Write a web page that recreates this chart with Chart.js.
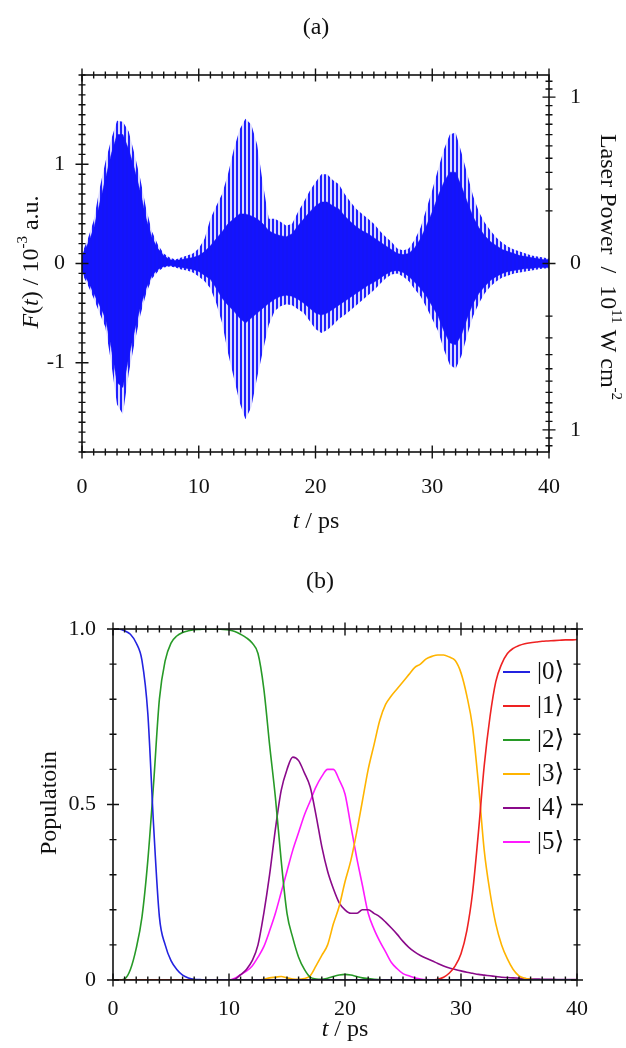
<!DOCTYPE html>
<html>
<head>
<meta charset="utf-8">
<script src="https://cdn.jsdelivr.net/npm/chart.js@4.4.1/dist/chart.umd.min.js"></script>
<style>
  html, body { margin: 0; padding: 0; background: #fff; }
  #wrap { position: relative; width: 626px; height: 1048px; }
  canvas { position: absolute; left: 0; }
  #fa { top: 0; }
  #fb { top: 550px; }
</style>
</head>
<body>
<div id="wrap">
  <canvas id="fa" width="626" height="550"></canvas>
  <canvas id="fb" width="626" height="498"></canvas>
</div>
<script>
// time grid (ps), shared by both panels
const tGrid = [
  0, 0.5, 1, 1.5, 2, 2.5, 3, 3.5, 4, 4.5,
  5, 5.5, 6, 6.5, 7, 7.5, 8, 8.5, 9, 9.5,
  10, 10.5, 11, 11.5, 12, 12.5, 13, 13.5, 14, 14.5,
  15, 15.5, 16, 16.5, 17, 17.5, 18, 18.5, 19, 19.5,
  20, 20.5, 21, 21.5, 22, 22.5, 23, 23.5, 24, 24.5,
  25, 25.5, 26, 26.5, 27, 27.5, 28, 28.5, 29, 29.5,
  30, 30.5, 31, 31.5, 32, 32.5, 33, 33.5, 34, 34.5,
  35, 35.5, 36, 36.5, 37, 37.5, 38, 38.5, 39, 39.5,
  40
];

// panel (a): envelope of the laser field F(t), 10^-3 a.u.
const fieldUpper = [
  0.10, 0.25, 0.43, 0.75, 1.02, 1.25, 1.44, 1.43, 1.33, 1.10,
  0.85, 0.55, 0.32, 0.19, 0.10, 0.06, 0.04, 0.06, 0.08, 0.10,
  0.15, 0.25, 0.45, 0.58, 0.70, 0.90, 1.15, 1.35, 1.46, 1.40,
  1.20, 0.80, 0.45, 0.45, 0.42, 0.38, 0.40, 0.52, 0.62, 0.73,
  0.82, 0.90, 0.90, 0.84, 0.80, 0.70, 0.62, 0.55, 0.50, 0.45,
  0.40, 0.33, 0.27, 0.22, 0.15, 0.13, 0.15, 0.24, 0.36, 0.55,
  0.74, 0.95, 1.15, 1.30, 1.32, 1.12, 0.90, 0.68, 0.52, 0.41,
  0.33, 0.26, 0.21, 0.17, 0.14, 0.12, 0.10, 0.08, 0.07, 0.06,
  0.05
];
const fieldLower = [
  -0.10, -0.22, -0.35, -0.50, -0.64, -1.00, -1.42, -1.52, -1.11, -0.80,
  -0.52, -0.30, -0.15, -0.08, -0.04, -0.03, -0.04, -0.06, -0.07, -0.09,
  -0.13, -0.18, -0.25, -0.40, -0.60, -0.90, -1.15, -1.40, -1.57, -1.45,
  -1.15, -0.88, -0.62, -0.48, -0.43, -0.41, -0.42, -0.46, -0.50, -0.58,
  -0.66, -0.70, -0.67, -0.62, -0.56, -0.52, -0.47, -0.42, -0.37, -0.32,
  -0.27, -0.21, -0.15, -0.11, -0.10, -0.13, -0.18, -0.26, -0.33, -0.44,
  -0.56, -0.68, -0.87, -1.02, -1.06, -0.93, -0.72, -0.53, -0.40, -0.30,
  -0.23, -0.18, -0.14, -0.12, -0.10, -0.09, -0.08, -0.07, -0.06, -0.05,
  -0.05
];
// dense core of the oscillation
const coreUpper = [
  0.08, 0.20, 0.35, 0.60, 0.85, 1.10, 1.30, 1.30, 1.15, 0.95,
  0.72, 0.45, 0.26, 0.15, 0.08, 0.04, 0.03, 0.04, 0.05, 0.06,
  0.08, 0.12, 0.18, 0.25, 0.32, 0.40, 0.45, 0.50, 0.50, 0.48,
  0.45, 0.40, 0.33, 0.30, 0.28, 0.27, 0.30, 0.38, 0.45, 0.52,
  0.58, 0.62, 0.62, 0.58, 0.55, 0.48, 0.42, 0.37, 0.33, 0.30,
  0.26, 0.22, 0.18, 0.14, 0.10, 0.09, 0.10, 0.16, 0.25, 0.38,
  0.52, 0.68, 0.82, 0.92, 0.92, 0.78, 0.62, 0.47, 0.36, 0.28,
  0.22, 0.18, 0.14, 0.12, 0.10, 0.08, 0.07, 0.06, 0.05, 0.04,
  0.04
];
const coreLower = [
  -0.08, -0.18, -0.30, -0.42, -0.55, -0.85, -1.20, -1.25, -0.95, -0.68,
  -0.44, -0.25, -0.12, -0.06, -0.03, -0.02, -0.03, -0.04, -0.05, -0.06,
  -0.08, -0.12, -0.16, -0.25, -0.35, -0.42, -0.48, -0.55, -0.60, -0.55,
  -0.50, -0.45, -0.40, -0.36, -0.33, -0.32, -0.33, -0.36, -0.40, -0.45,
  -0.50, -0.52, -0.50, -0.46, -0.42, -0.38, -0.34, -0.30, -0.26, -0.22,
  -0.19, -0.15, -0.11, -0.08, -0.07, -0.09, -0.13, -0.19, -0.25, -0.33,
  -0.43, -0.53, -0.68, -0.80, -0.82, -0.72, -0.55, -0.40, -0.30, -0.23,
  -0.17, -0.13, -0.10, -0.08, -0.07, -0.06, -0.05, -0.05, -0.04, -0.04,
  -0.04
];

// panel (b): populations of |0> .. |5>
const pop0 = [
  1.0, 1.0, 0.995, 0.985, 0.96, 0.91, 0.76, 0.44, 0.18, 0.1,
  0.055, 0.03, 0.014, 0.006, 0.002, 0.001, 0, 0, 0, 0,
  0, 0, 0, 0, 0, 0, 0, 0, 0, 0,
  0, 0, 0, 0, 0, 0, 0, 0, 0, 0,
  0, 0, 0, 0, 0, 0, 0, 0, 0, 0,
  0, 0, 0, 0, 0, 0, 0, 0, 0, 0,
  0, 0, 0, 0, 0, 0, 0, 0, 0, 0,
  0, 0, 0, 0, 0, 0, 0, 0, 0, 0,
  0
];
const pop1 = [
  0, 0, 0, 0, 0, 0, 0, 0, 0, 0,
  0, 0, 0, 0, 0, 0, 0, 0, 0, 0,
  0, 0, 0, 0, 0, 0, 0, 0, 0, 0,
  0, 0, 0, 0, 0, 0, 0, 0, 0, 0,
  0, 0, 0, 0, 0, 0, 0, 0, 0, 0,
  0, 0, 0, 0, 0, 0, 0.002, 0.008, 0.02, 0.04,
  0.075, 0.14, 0.25, 0.42, 0.61, 0.75, 0.85, 0.9, 0.93, 0.945,
  0.953, 0.958, 0.961, 0.963, 0.965, 0.966, 0.967, 0.968, 0.969, 0.969,
  0.97
];
const pop2 = [
  0, 0, 0.003, 0.03, 0.09, 0.18, 0.34, 0.56, 0.8, 0.91,
  0.96, 0.98, 0.99, 0.995, 0.998, 0.999, 1.0, 1.0, 1.0, 0.999,
  0.997, 0.993, 0.985, 0.975, 0.96, 0.93, 0.83, 0.67, 0.52, 0.34,
  0.19, 0.12, 0.065, 0.03, 0.008, 0.003, 0.002, 0.005, 0.01, 0.014,
  0.016, 0.014, 0.01, 0.006, 0.004, 0.002, 0.001, 0, 0, 0,
  0, 0, 0, 0, 0, 0, 0, 0, 0, 0,
  0, 0, 0, 0, 0, 0, 0, 0, 0, 0,
  0, 0, 0, 0, 0, 0, 0, 0, 0, 0,
  0
];
const pop3 = [
  0, 0, 0, 0, 0, 0, 0, 0, 0, 0,
  0, 0, 0, 0, 0, 0, 0, 0, 0, 0,
  0, 0, 0, 0, 0, 0, 0.002, 0.006, 0.008, 0.01,
  0.006, 0.003, 0.002, 0.004, 0.012, 0.04, 0.07, 0.1, 0.16, 0.21,
  0.28, 0.34, 0.42, 0.51, 0.6, 0.67, 0.74, 0.785, 0.81, 0.83,
  0.85, 0.87, 0.89, 0.9, 0.915, 0.922, 0.926, 0.926, 0.92, 0.91,
  0.875, 0.81, 0.72, 0.56, 0.37, 0.25, 0.16, 0.1, 0.06, 0.03,
  0.012, 0.005, 0.002, 0, 0, 0, 0, 0, 0, 0,
  0
];
const pop4 = [
  0, 0, 0, 0, 0, 0, 0, 0, 0, 0,
  0, 0, 0, 0, 0, 0, 0, 0, 0, 0,
  0, 0.002, 0.015, 0.03, 0.055, 0.1, 0.19, 0.3, 0.43, 0.54,
  0.6, 0.635, 0.625, 0.59, 0.55, 0.47, 0.38, 0.31, 0.26, 0.22,
  0.2, 0.19, 0.19, 0.2, 0.2, 0.19, 0.18, 0.165, 0.148, 0.13,
  0.11, 0.093, 0.08, 0.07, 0.062, 0.055, 0.047, 0.04, 0.034, 0.03,
  0.026, 0.022, 0.019, 0.016, 0.014, 0.012, 0.01, 0.008, 0.007, 0.006,
  0.005, 0.004, 0.003, 0.003, 0.002, 0.002, 0.002, 0.001, 0.001, 0.001,
  0.001
];
const pop5 = [
  0, 0, 0, 0, 0, 0, 0, 0, 0, 0,
  0, 0, 0, 0, 0, 0, 0, 0, 0, 0,
  0, 0.005, 0.015, 0.025, 0.04, 0.065, 0.095, 0.14, 0.19, 0.25,
  0.31, 0.37, 0.42, 0.47, 0.51, 0.55, 0.58, 0.6, 0.6, 0.57,
  0.53, 0.44, 0.35, 0.27, 0.19, 0.145, 0.11, 0.08, 0.05, 0.032,
  0.018, 0.012, 0.006, 0.003, 0.001, 0, 0, 0, 0, 0,
  0, 0, 0, 0, 0, 0, 0, 0, 0, 0,
  0, 0, 0, 0, 0, 0, 0, 0, 0, 0,
  0
];

const stateLabels = ['|0\u27E9', '|1\u27E9', '|2\u27E9', '|3\u27E9', '|4\u27E9', '|5\u27E9'];
const stateColors = ['#2323e0', '#ee2222', '#279a27', '#ffb400', '#8a0a8a', '#ff1aff'];

// ticks
const xTicks = [0, 10, 20, 30, 40];
const fieldTicks = [-1, 0, 1];
const powerTicks = [0.1, 0.2, 0.3, 0.4, 0.5, 0.6, 0.7, 0.8, 0.9, 1.0, 1.1, 1.2];
const fieldPerSqrtPower = 1.677; // 10^-3 a.u. for 10^11 W cm^-2
const popTicks = [0, 0.5, 1];

const SERIF = '"Liberation Serif", "DejaVu Serif", "Times New Roman", serif';
const tickFont = { family: SERIF, size: 22 };

function pts(xs, ys) { return xs.map((x, i) => ({ x: x, y: ys[i] })); }

function range(a, b, step) {
  const out = [];
  for (let i = 0; a + i * step <= b + 1e-9; i++) out.push(+(a + i * step).toFixed(4));
  return out;
}

// vertical stripe fill to mimic the unresolved carrier oscillation
function stripes() {
  const c = document.createElement('canvas');
  c.width = 4; c.height = 2;
  const g = c.getContext('2d');
  g.fillStyle = 'rgba(20,20,255,0.95)';
  g.fillRect(0, 0, 2, 2);
  g.fillStyle = 'rgba(90,90,255,0.22)';
  g.fillRect(2, 0, 2, 2);
  return g.createPattern(c, 'repeat');
}

// draw a string made of differently styled pieces, centred on (x, y)
function rich(ctx, parts, x, y, rot) {
  ctx.save();
  ctx.translate(x, y);
  ctx.rotate(rot || 0);
  ctx.textBaseline = 'middle';
  ctx.fillStyle = '#111';
  let w = 0;
  parts.forEach(p => { ctx.font = p.font; w += ctx.measureText(p.text).width; });
  let cx = -w / 2;
  parts.forEach(p => {
    ctx.font = p.font;
    ctx.fillText(p.text, cx, p.dy || 0);
    cx += ctx.measureText(p.text).width;
  });
  ctx.restore();
}

// frame box plus crossing tick marks
function drawFrame(chart, marks) {
  const ctx = chart.ctx, a = chart.chartArea;
  ctx.save();
  ctx.strokeStyle = '#111';
  ctx.lineWidth = 1.6;
  ctx.strokeRect(a.left, a.top, a.right - a.left, a.bottom - a.top);
  ctx.lineWidth = 1.4;
  ctx.beginPath();
  marks.forEach(m => {
    const s = chart.scales[m.scale];
    const edges = m.side === 'L' ? [a.left] : m.side === 'R' ? [a.right] : null;
    m.values.forEach(v => {
      const p = s.getPixelForValue(v);
      if (m.scale === 'x') {
        [a.top, a.bottom].forEach(e => { ctx.moveTo(p, e - m.len); ctx.lineTo(p, e + m.len); });
      } else {
        (edges || [a.left, a.right]).forEach(e => { ctx.moveTo(e - m.len, p); ctx.lineTo(e + m.len, p); });
      }
    });
  });
  ctx.stroke();
  ctx.restore();
}

const xMinor = range(0, 40, 1);

const framePlugin = {
  id: 'framePlugin',
  afterDatasetsDraw(chart, args, opts) { drawFrame(chart, opts.marks); }
};

const labelsA = {
  id: 'labelsA',
  afterDraw(chart) {
    const ctx = chart.ctx;
    const it = 'italic 24px ' + SERIF, rm = '24px ' + SERIF, sup = '15px ' + SERIF;
    rich(ctx, [{ text: '(a)', font: rm }], 316, 28);
    rich(ctx, [{ text: 't', font: it }, { text: ' / ps', font: rm }], 316, 522);
    rich(ctx, [
      { text: 'F', font: it }, { text: '(', font: rm }, { text: 't', font: it },
      { text: ') / 10', font: rm }, { text: '-3', font: sup, dy: -9 }, { text: ' a.u.', font: rm }
    ], 32, 262, -Math.PI / 2);
    rich(ctx, [
      { text: 'Laser Power  /  10', font: rm }, { text: '11', font: sup, dy: -9 },
      { text: ' W cm', font: rm }, { text: '-2', font: sup, dy: -9 }
    ], 607, 267, Math.PI / 2);
  }
};

const labelsB = {
  id: 'labelsB',
  afterDraw(chart) {
    const ctx = chart.ctx, a = chart.chartArea;
    const it = 'italic 24px ' + SERIF, rm = '24px ' + SERIF;
    rich(ctx, [{ text: '(b)', font: rm }], 320, 32);
    rich(ctx, [{ text: 't', font: it }, { text: ' / ps', font: rm }], 345, 480);
    rich(ctx, [{ text: 'Populatoin', font: rm }], 50, 253, -Math.PI / 2);
    // legend inside the plot, top right
    ctx.save();
    ctx.textBaseline = 'middle';
    ctx.font = '25px ' + SERIF;
    chart.data.datasets.forEach((ds, i) => {
      const y = a.top + 43 + i * 34;
      ctx.strokeStyle = ds.borderColor;
      ctx.lineWidth = 2;
      ctx.beginPath();
      ctx.moveTo(a.right - 74, y);
      ctx.lineTo(a.right - 47, y);
      ctx.stroke();
      ctx.fillStyle = '#111';
      ctx.fillText(ds.label, a.right - 40, y);
    });
    ctx.restore();
  }
};

// ---------- panel (a) ----------
new Chart(document.getElementById('fa'), {
  type: 'line',
  data: {
    datasets: [
      { data: pts(tGrid, fieldUpper), fill: '+1', backgroundColor: stripes(), borderWidth: 0 },
      { data: pts(tGrid, fieldLower), fill: false, borderWidth: 0 },
      { data: pts(tGrid, coreUpper), fill: '+1', backgroundColor: '#0000f5', borderColor: '#0000f5', borderWidth: 0.5 },
      { data: pts(tGrid, coreLower), fill: false, borderColor: '#0000f5', borderWidth: 0.5 }
    ]
  },
  options: {
    responsive: false,
    animation: false,
    layout: { padding: { top: 75 } },
    elements: { point: { radius: 0 }, line: { tension: 0 } },
    plugins: {
      legend: { display: false },
      tooltip: { enabled: false },
      framePlugin: {
        marks: [
          { scale: 'x', values: xMinor, len: 3.5 },
          { scale: 'x', values: xTicks, len: 6.5 },
          { scale: 'y', values: range(-1.9, 1.9, 0.1), len: 3.5, side: 'L' },
          { scale: 'y', values: fieldTicks, len: 6.5, side: 'L' },
          { scale: 'y', values: powerTicks.map(p => fieldPerSqrtPower * Math.sqrt(p)), len: 3.5, side: 'R' },
          { scale: 'y', values: powerTicks.map(p => -fieldPerSqrtPower * Math.sqrt(p)), len: 3.5, side: 'R' },
          { scale: 'y', values: [-fieldPerSqrtPower, 0, fieldPerSqrtPower], len: 6.5, side: 'R' }
        ]
      }
    },
    scales: {
      x: {
        type: 'linear', min: 0, max: 40,
        afterFit: s => { s.height = 98; },
        afterBuildTicks: s => { s.ticks = xTicks.map(v => ({ value: v })); },
        grid: { display: false }, border: { display: false },
        ticks: { font: tickFont, color: '#111', padding: 14, maxRotation: 0 }
      },
      y: {
        type: 'linear', position: 'left', min: -1.9, max: 1.9,
        afterFit: s => { s.width = 82; },
        afterBuildTicks: s => { s.ticks = fieldTicks.map(v => ({ value: v })); },
        grid: { display: false }, border: { display: false },
        ticks: { font: tickFont, color: '#111', padding: 9, callback: v => String(v) }
      },
      y2: {
        type: 'linear', position: 'right', min: -1.9, max: 1.9,
        afterFit: s => { s.width = 77; },
        afterBuildTicks: s => { s.ticks = [-fieldPerSqrtPower, 0, fieldPerSqrtPower].map(v => ({ value: v })); },
        grid: { display: false }, border: { display: false },
        ticks: { font: tickFont, color: '#111', padding: 13, callback: v => (v === 0 ? '0' : '1') }
      }
    }
  },
  plugins: [framePlugin, labelsA]
});

// ---------- panel (b) ----------
const popSeries = [pop0, pop1, pop2, pop3, pop4, pop5];
new Chart(document.getElementById('fb'), {
  type: 'line',
  data: {
    datasets: popSeries.map((p, i) => ({
      label: stateLabels[i],
      data: pts(tGrid, p),
      borderColor: stateColors[i],
      borderWidth: 1.6,
      fill: false
    }))
  },
  options: {
    responsive: false,
    animation: false,
    layout: { padding: { top: 79, right: 49 } },
    elements: { point: { radius: 0 }, line: { cubicInterpolationMode: 'monotone' } },
    plugins: {
      legend: { display: false },
      tooltip: { enabled: false },
      framePlugin: {
        marks: [
          { scale: 'x', values: xMinor, len: 3.5 },
          { scale: 'x', values: xTicks, len: 6.5 },
          { scale: 'y', values: range(0, 1, 0.1), len: 3.5 },
          { scale: 'y', values: popTicks, len: 6 }
        ]
      }
    },
    scales: {
      x: {
        type: 'linear', min: 0, max: 40,
        afterFit: s => { s.height = 68; },
        afterBuildTicks: s => { s.ticks = xTicks.map(v => ({ value: v })); },
        grid: { display: false }, border: { display: false },
        ticks: { font: tickFont, color: '#111', padding: 8, maxRotation: 0 }
      },
      y: {
        type: 'linear', position: 'left', min: 0, max: 1,
        afterFit: s => { s.width = 113; },
        afterBuildTicks: s => { s.ticks = popTicks.map(v => ({ value: v })); },
        grid: { display: false }, border: { display: false },
        ticks: { font: tickFont, color: '#111', padding: 9, callback: v => (v === 0 ? '0' : v.toFixed(1)) }
      }
    }
  },
  plugins: [framePlugin, labelsB]
});
</script>
</body>
</html>
